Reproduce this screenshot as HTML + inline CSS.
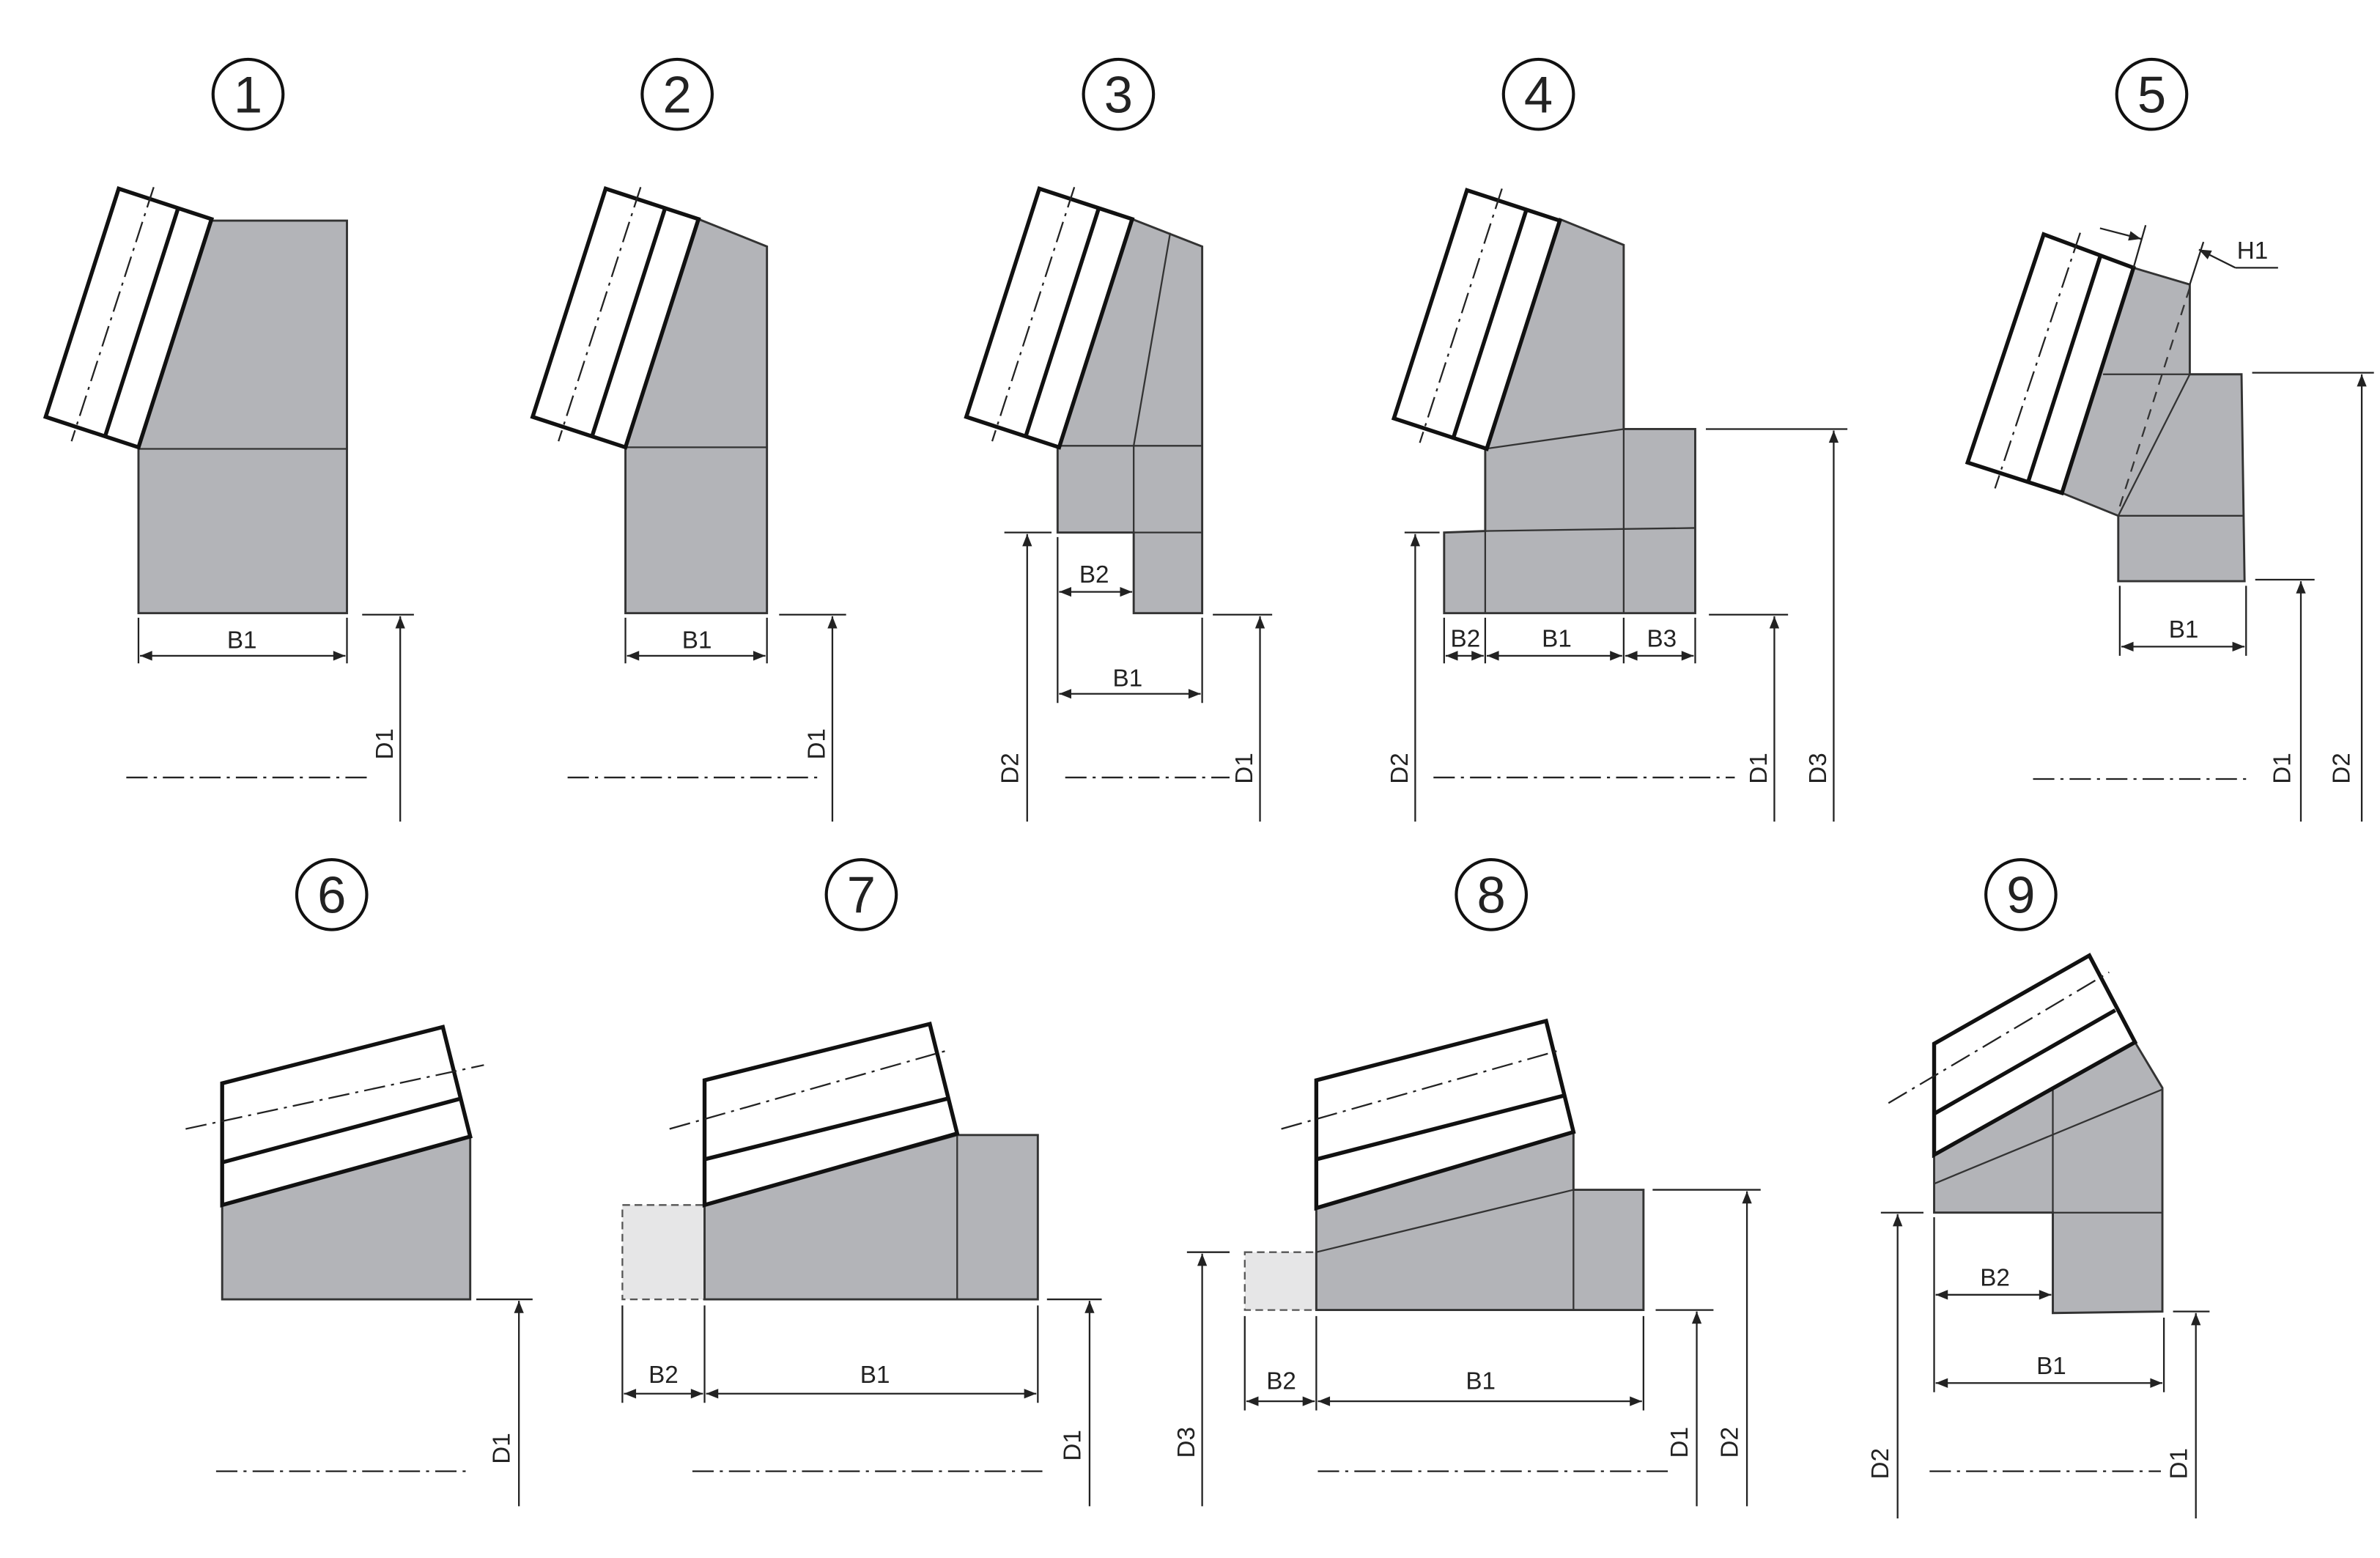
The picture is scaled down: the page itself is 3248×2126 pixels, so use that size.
<!DOCTYPE html>
<html><head><meta charset="utf-8"><style>
html,body{margin:0;padding:0;background:#fff;}
svg{display:block;}
text{font-family:"Liberation Sans",sans-serif;fill:#222;}
</style></head><body>
<svg width="3248" height="2126" viewBox="0 0 1564 1024" preserveAspectRatio="none" xmlns="http://www.w3.org/2000/svg">
<defs>
<marker id="a" viewBox="0 0 10 10" refX="10" refY="5" markerWidth="12" markerHeight="8" markerUnits="userSpaceOnUse" orient="auto-start-reverse"><path d="M0,1 L10,5 L0,9 Z" fill="#222"/></marker>
</defs>
<style>
.g{fill:#b3b4b8;stroke:#333;stroke-width:1.4}
.l{stroke:#333;stroke-width:1.1;fill:none}
.p{fill:#fff;stroke:#111;stroke-width:2.6;stroke-linejoin:miter}
.t{stroke:#111;stroke-width:2.6;fill:none}
.c{stroke:#222;stroke-width:1.1;fill:none;stroke-dasharray:14 4 2 4}
.d{stroke:#222;stroke-width:1.1;fill:none}
.da{stroke:#222;stroke-width:1.1;fill:none;marker-end:url(#a)}
.db{stroke:#222;stroke-width:1.1;fill:none;marker-end:url(#a);marker-start:url(#a)}
.lbl{font-size:16px}
.n{font-size:34px}
.ci{fill:none;stroke:#111;stroke-width:2}
</style>

<!-- Titles -->
<g>
<circle class="ci" cx="163" cy="62" r="23"/><text class="n" x="163" y="74" text-anchor="middle">1</text>
<circle class="ci" cx="445" cy="62" r="23"/><text class="n" x="445" y="74" text-anchor="middle">2</text>
<circle class="ci" cx="735" cy="62" r="23"/><text class="n" x="735" y="74" text-anchor="middle">3</text>
<circle class="ci" cx="1011" cy="62" r="23"/><text class="n" x="1011" y="74" text-anchor="middle">4</text>
<circle class="ci" cx="1414" cy="62" r="23"/><text class="n" x="1414" y="74" text-anchor="middle">5</text>
<circle class="ci" cx="218" cy="588" r="23"/><text class="n" x="218" y="600" text-anchor="middle">6</text>
<circle class="ci" cx="566" cy="588" r="23"/><text class="n" x="566" y="600" text-anchor="middle">7</text>
<circle class="ci" cx="980" cy="588" r="23"/><text class="n" x="980" y="600" text-anchor="middle">8</text>
<circle class="ci" cx="1328" cy="588" r="23"/><text class="n" x="1328" y="600" text-anchor="middle">9</text>
</g>

<!-- Fig 1 -->
<g>
<polygon class="g" points="139,145 228,145 228,403 91,403 91,295"/>
<line class="l" x1="91" y1="295" x2="228" y2="295"/>
<polygon class="p" points="78,124 139,144 91,294 30,274"/>
<line class="t" x1="117" y1="137" x2="69" y2="287"/>
<line class="c" x1="101" y1="123" x2="47" y2="290"/>
<line class="d" x1="91" y1="406" x2="91" y2="436"/><line class="d" x1="228" y1="406" x2="228" y2="436"/>
<line class="db" x1="92" y1="431" x2="227" y2="431"/><text class="lbl" x="159" y="426" text-anchor="middle">B1</text>
<line class="d" x1="238" y1="404" x2="272" y2="404"/><line class="da" x1="263" y1="540" x2="263" y2="405"/>
<text class="lbl" transform="translate(258,489) rotate(-90)" text-anchor="middle">D1</text>
<line class="c" x1="83" y1="511" x2="243" y2="511"/>
</g>

<!-- Fig 2 -->
<g>
<polygon class="g" points="459,144 504,162 504,403 411,403 411,294"/>
<line class="l" x1="411" y1="294" x2="504" y2="294"/>
<g transform="translate(320,0)">
<polygon class="p" points="78,124 139,144 91,294 30,274"/>
<line class="t" x1="117" y1="137" x2="69" y2="287"/>
<line class="c" x1="101" y1="123" x2="47" y2="290"/>
</g>
<line class="d" x1="411" y1="406" x2="411" y2="436"/><line class="d" x1="504" y1="406" x2="504" y2="436"/>
<line class="db" x1="412" y1="431" x2="503" y2="431"/><text class="lbl" x="458" y="426" text-anchor="middle">B1</text>
<line class="d" x1="512" y1="404" x2="556" y2="404"/><line class="da" x1="547" y1="540" x2="547" y2="405"/>
<text class="lbl" transform="translate(542,489) rotate(-90)" text-anchor="middle">D1</text>
<line class="c" x1="373" y1="511" x2="540" y2="511"/>
</g>

<!-- Fig 3 -->
<g>
<polygon class="g" points="744,144 790,162 790,403 745,403 745,350 695,350 695,293"/>
<polyline class="l" points="769,153 745,293 745,403"/>
<line class="l" x1="695" y1="293" x2="790" y2="293"/>
<line class="l" x1="695" y1="350" x2="790" y2="350"/>
<g transform="translate(605,0)">
<polygon class="p" points="78,124 139,144 91,294 30,274"/>
<line class="t" x1="117" y1="137" x2="69" y2="287"/>
<line class="c" x1="101" y1="123" x2="47" y2="290"/>
</g>
<line class="d" x1="695" y1="353" x2="695" y2="462"/><line class="d" x1="790" y1="406" x2="790" y2="462"/>
<line class="db" x1="696" y1="389" x2="744" y2="389"/><text class="lbl" x="719" y="383" text-anchor="middle">B2</text>
<line class="db" x1="696" y1="456" x2="789" y2="456"/><text class="lbl" x="741" y="451" text-anchor="middle">B1</text>
<line class="d" x1="660" y1="350" x2="691" y2="350"/><line class="da" x1="675" y1="540" x2="675" y2="351"/>
<text class="lbl" transform="translate(669,505) rotate(-90)" text-anchor="middle">D2</text>
<line class="d" x1="797" y1="404" x2="836" y2="404"/><line class="da" x1="828" y1="540" x2="828" y2="405"/>
<text class="lbl" transform="translate(823,505) rotate(-90)" text-anchor="middle">D1</text>
<line class="c" x1="700" y1="511" x2="808" y2="511"/>
</g>

<!-- Fig 4 -->
<g>
<polygon class="g" points="1025,144 1067,161 1067,282 1114,282 1114,403 949,403 949,350 976,349 976,295"/>
<line class="l" x1="976" y1="295" x2="1067" y2="282"/>
<line class="l" x1="976" y1="349" x2="1114" y2="347"/>
<line class="l" x1="1067" y1="282" x2="1067" y2="403"/>
<line class="l" x1="976" y1="349" x2="976" y2="403"/>
<g transform="translate(886,1)">
<polygon class="p" points="78,124 139,144 91,294 30,274"/>
<line class="t" x1="117" y1="137" x2="69" y2="287"/>
<line class="c" x1="101" y1="123" x2="47" y2="290"/>
</g>
<line class="d" x1="949" y1="406" x2="949" y2="436"/><line class="d" x1="976" y1="406" x2="976" y2="436"/>
<line class="d" x1="1067" y1="406" x2="1067" y2="436"/><line class="d" x1="1114" y1="406" x2="1114" y2="436"/>
<line class="db" x1="950" y1="431" x2="975" y2="431"/><text class="lbl" x="963" y="425" text-anchor="middle">B2</text>
<line class="db" x1="977" y1="431" x2="1066" y2="431"/><text class="lbl" x="1023" y="425" text-anchor="middle">B1</text>
<line class="db" x1="1068" y1="431" x2="1113" y2="431"/><text class="lbl" x="1092" y="425" text-anchor="middle">B3</text>
<line class="d" x1="923" y1="350" x2="946" y2="350"/><line class="da" x1="930" y1="540" x2="930" y2="351"/>
<text class="lbl" transform="translate(925,505) rotate(-90)" text-anchor="middle">D2</text>
<line class="d" x1="1123" y1="404" x2="1175" y2="404"/><line class="da" x1="1166" y1="540" x2="1166" y2="405"/>
<text class="lbl" transform="translate(1161,505) rotate(-90)" text-anchor="middle">D1</text>
<line class="d" x1="1121" y1="282" x2="1214" y2="282"/><line class="da" x1="1205" y1="540" x2="1205" y2="283"/>
<text class="lbl" transform="translate(1200,505) rotate(-90)" text-anchor="middle">D3</text>
<line class="c" x1="942" y1="511" x2="1140" y2="511"/>
</g>

<!-- Fig 5 -->
<g>
<polygon class="g" points="1402,176 1439,187 1439,246 1473,246 1475,382 1392,382 1392,339 1355,324"/>
<line class="l" x1="1382" y1="246" x2="1473" y2="246"/>
<line class="l" x1="1392" y1="339" x2="1474" y2="339"/>
<line class="l" x1="1439" y1="246" x2="1392" y2="339"/>
<line class="l" x1="1439" y1="187" x2="1439" y2="246"/>
<line class="l" x1="1439" y1="189" x2="1392" y2="336" style="stroke-dasharray:7 5"/>
<polygon class="p" points="1343,154 1402,176 1355,324 1293,304"/>
<line class="t" x1="1380" y1="169" x2="1333" y2="316"/>
<line class="c" x1="1367" y1="153" x2="1311" y2="321"/>
<line class="d" x1="1410" y1="148" x2="1402" y2="176"/><line class="d" x1="1448" y1="159" x2="1439" y2="187"/>
<line class="da" x1="1380" y1="150" x2="1407" y2="157"/>
<polyline class="d" points="1470,176 1450,170 1497,176" style="display:none"/>
<line class="da" x1="1469" y1="176" x2="1445" y2="164"/>
<line class="d" x1="1469" y1="176" x2="1497" y2="176"/>
<text class="lbl" x="1470" y="170">H1</text>
<line class="d" x1="1393" y1="385" x2="1393" y2="431"/><line class="d" x1="1476" y1="385" x2="1476" y2="431"/>
<line class="db" x1="1394" y1="425" x2="1475" y2="425"/><text class="lbl" x="1435" y="419" text-anchor="middle">B1</text>
<line class="d" x1="1482" y1="381" x2="1521" y2="381"/><line class="da" x1="1512" y1="540" x2="1512" y2="382"/>
<text class="lbl" transform="translate(1505,505) rotate(-90)" text-anchor="middle">D1</text>
<line class="d" x1="1480" y1="245" x2="1560" y2="245"/><line class="da" x1="1552" y1="540" x2="1552" y2="246"/>
<text class="lbl" transform="translate(1544,505) rotate(-90)" text-anchor="middle">D2</text>
<line class="c" x1="1336" y1="512" x2="1480" y2="512"/>
</g>

<!-- Fig 6 -->
<g>
<polygon class="g" points="146,792 309,747 309,854 146,854"/>
<polygon class="p" points="146,712 291,675 309,747 146,792"/>
<line class="t" x1="146" y1="764" x2="303" y2="722"/>
<line class="c" x1="122" y1="742" x2="318" y2="700"/>
<line class="d" x1="313" y1="854" x2="350" y2="854"/><line class="da" x1="341" y1="990" x2="341" y2="855"/>
<text class="lbl" transform="translate(335,952) rotate(-90)" text-anchor="middle">D1</text>
<line class="c" x1="142" y1="967" x2="310" y2="967"/>
</g>

<!-- Fig 7 -->
<g>
<rect x="409" y="792" width="54" height="62" fill="#e6e6e7" stroke="#555" stroke-width="1.1" stroke-dasharray="5 3"/>
<polygon class="g" points="463,792 629,746 682,746 682,854 463,854"/>
<line class="l" x1="629" y1="746" x2="629" y2="854"/>
<polygon class="p" points="463,710 611,673 629,745 463,792"/>
<line class="t" x1="463" y1="762" x2="623" y2="722"/>
<line class="c" x1="440" y1="742" x2="624" y2="690"/>
<line class="d" x1="409" y1="858" x2="409" y2="922"/><line class="d" x1="463" y1="858" x2="463" y2="922"/><line class="d" x1="682" y1="858" x2="682" y2="922"/>
<line class="db" x1="410" y1="916" x2="462" y2="916"/><text class="lbl" x="436" y="909" text-anchor="middle">B2</text>
<line class="db" x1="464" y1="916" x2="681" y2="916"/><text class="lbl" x="575" y="909" text-anchor="middle">B1</text>
<line class="d" x1="688" y1="854" x2="724" y2="854"/><line class="da" x1="716" y1="990" x2="716" y2="855"/>
<text class="lbl" transform="translate(710,950) rotate(-90)" text-anchor="middle">D1</text>
<line class="c" x1="455" y1="967" x2="688" y2="967"/>
</g>

<!-- Fig 8 -->
<g>
<rect x="818" y="823" width="47" height="38" fill="#e6e6e7" stroke="#555" stroke-width="1.1" stroke-dasharray="5 3"/>
<polygon class="g" points="865,794 1034,744 1034,782 1080,782 1080,861 865,861"/>
<line class="l" x1="865" y1="823" x2="1034" y2="782"/>
<line class="l" x1="1034" y1="782" x2="1034" y2="861"/>
<polygon class="p" points="865,710 1016,671 1034,744 865,794"/>
<line class="t" x1="865" y1="762" x2="1028" y2="720"/>
<line class="c" x1="842" y1="742" x2="1026" y2="690"/>
<line class="d" x1="818" y1="865" x2="818" y2="927"/><line class="d" x1="865" y1="865" x2="865" y2="927"/><line class="d" x1="1080" y1="865" x2="1080" y2="927"/>
<line class="db" x1="819" y1="921" x2="864" y2="921"/><text class="lbl" x="842" y="913" text-anchor="middle">B2</text>
<line class="db" x1="866" y1="921" x2="1079" y2="921"/><text class="lbl" x="973" y="913" text-anchor="middle">B1</text>
<line class="d" x1="780" y1="823" x2="808" y2="823"/><line class="da" x1="790" y1="990" x2="790" y2="824"/>
<text class="lbl" transform="translate(785,948) rotate(-90)" text-anchor="middle">D3</text>
<line class="d" x1="1088" y1="861" x2="1126" y2="861"/><line class="da" x1="1115" y1="990" x2="1115" y2="862"/>
<text class="lbl" transform="translate(1109,948) rotate(-90)" text-anchor="middle">D1</text>
<line class="d" x1="1086" y1="782" x2="1157" y2="782"/><line class="da" x1="1148" y1="990" x2="1148" y2="783"/>
<text class="lbl" transform="translate(1142,948) rotate(-90)" text-anchor="middle">D2</text>
<line class="c" x1="866" y1="967" x2="1096" y2="967"/>
</g>

<!-- Fig 9 -->
<g>
<polygon class="g" points="1271,759 1403,685 1421,715 1421,862 1349,863 1349,797 1271,797"/>
<line class="l" x1="1271" y1="778" x2="1421" y2="716"/>
<line class="l" x1="1349" y1="706" x2="1349" y2="863"/>
<line class="l" x1="1271" y1="797" x2="1421" y2="797"/>
<polygon class="p" points="1271,686 1373,628 1403,685 1271,759"/>
<line class="t" x1="1271" y1="732" x2="1390" y2="664"/>
<line class="c" x1="1241" y1="725" x2="1386" y2="639"/>
<line class="d" x1="1271" y1="800" x2="1271" y2="915"/><line class="d" x1="1422" y1="866" x2="1422" y2="915"/>
<line class="db" x1="1272" y1="851" x2="1348" y2="851"/><text class="lbl" x="1311" y="845" text-anchor="middle">B2</text>
<line class="db" x1="1272" y1="909" x2="1421" y2="909"/><text class="lbl" x="1348" y="903" text-anchor="middle">B1</text>
<line class="d" x1="1236" y1="797" x2="1264" y2="797"/><line class="da" x1="1247" y1="998" x2="1247" y2="798"/>
<text class="lbl" transform="translate(1241,962) rotate(-90)" text-anchor="middle">D2</text>
<line class="d" x1="1428" y1="862" x2="1452" y2="862"/><line class="da" x1="1443" y1="998" x2="1443" y2="863"/>
<text class="lbl" transform="translate(1437,962) rotate(-90)" text-anchor="middle">D1</text>
<line class="c" x1="1268" y1="967" x2="1420" y2="967"/>
</g>
</svg>
</body></html>
